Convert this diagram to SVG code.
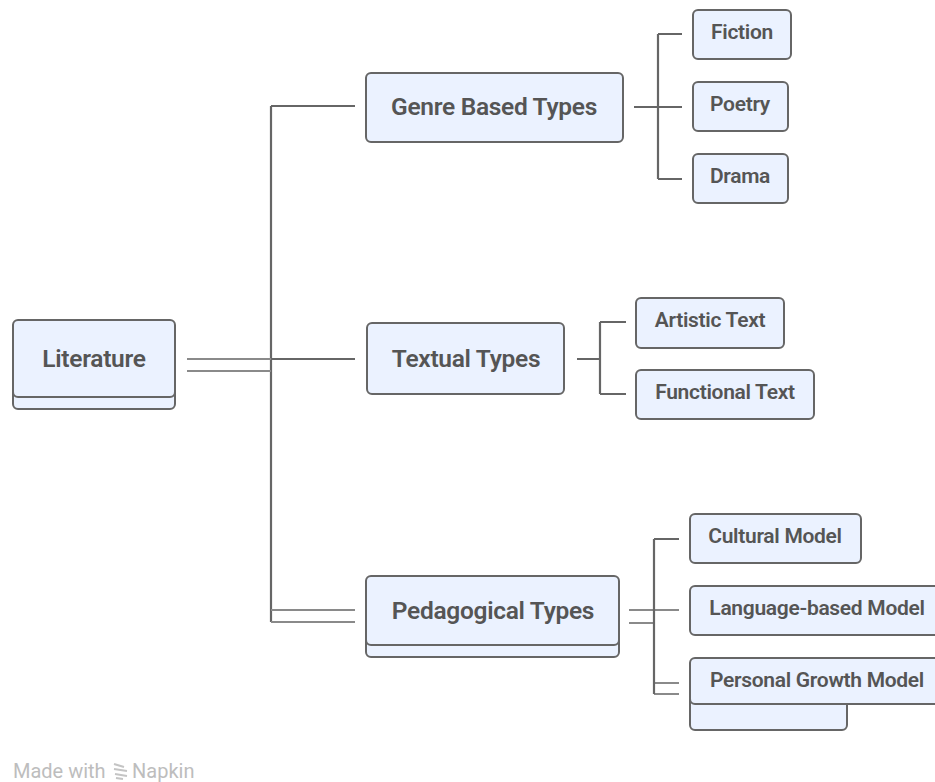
<svg xmlns="http://www.w3.org/2000/svg" width="935" height="782" viewBox="0 0 935 782">
<style>
.box{fill:#ebf2ff;stroke:#666;stroke-width:2}
.ln{fill:none;stroke:#666;stroke-width:2.2}
.ln2{fill:none;stroke:#8a8a8a;stroke-width:2.2}
.t1{font-family:Roboto,"Liberation Sans",sans-serif;font-weight:600;font-size:24.5px;fill:#555;text-anchor:middle;dominant-baseline:central;letter-spacing:-0.3px}
.t2{font-family:Roboto,"Liberation Sans",sans-serif;font-weight:600;font-size:21px;fill:#555;text-anchor:middle;dominant-baseline:central;letter-spacing:-0.3px}
.wm{font-family:Roboto,"Liberation Sans",sans-serif;font-size:20px;fill:#bdbdbd}
</style>
<rect width="935" height="782" fill="#fff"/>
<g id="connectors">
<path class="ln" d="M271 106V622M271 106H355M271 359H355"/>
<path class="ln2" d="M187 359H271M187 371H271M271 610H355M271 622H355"/>
<path class="ln" d="M634 107H682M658 34V179M658 34H682M658 179H682"/>
<path class="ln" d="M577 359H600M600 322V394M600 322H626M600 394H626"/>
<path class="ln2" d="M629 610H679M629 623H654M654 683H679M654 694H679"/>
<path class="ln" d="M654 539V694M654 539H679"/>
</g>
<g id="literature">
<rect class="box" x="13" y="332" width="162" height="77" rx="5"/>
<rect class="box" x="13" y="320" width="162" height="77" rx="5"/>
<text class="t1" x="94" y="358">Literature</text>
</g>
<g id="genre">
<rect class="box" x="366" y="73" width="257" height="69" rx="5"/>
<text class="t1" x="494" y="106">Genre Based Types</text>
</g>
<g id="textual">
<rect class="box" x="367" y="323" width="197" height="71" rx="5"/>
<text class="t1" x="466" y="358">Textual Types</text>
</g>
<g id="pedagogical">
<rect class="box" x="366" y="588" width="253" height="69" rx="5"/>
<rect class="box" x="366" y="576" width="253" height="69" rx="5"/>
<text class="t1" x="493" y="610">Pedagogical Types</text>
</g>
<g id="fiction">
<rect class="box" x="693" y="10" width="98" height="49" rx="5"/>
<text class="t2" x="742" y="32">Fiction</text>
</g>
<g id="poetry">
<rect class="box" x="693" y="82" width="95" height="49" rx="5"/>
<text class="t2" x="740" y="104">Poetry</text>
</g>
<g id="drama">
<rect class="box" x="693" y="154" width="95" height="49" rx="5"/>
<text class="t2" x="740" y="176">Drama</text>
</g>
<g id="artistic">
<rect class="box" x="636" y="298" width="148" height="50" rx="5"/>
<text class="t2" x="710" y="320">Artistic Text</text>
</g>
<g id="functional">
<rect class="box" x="636" y="370" width="178" height="49" rx="5"/>
<text class="t2" x="725" y="392">Functional Text</text>
</g>
<g id="cultural">
<rect class="box" x="690" y="514" width="171" height="49" rx="5"/>
<text class="t2" x="775" y="536">Cultural Model</text>
</g>
<g id="language">
<rect class="box" x="690" y="586" width="254" height="49" rx="5"/>
<text class="t2" x="817" y="608">Language-based Model</text>
</g>
<g id="personal">
<rect class="box" x="690" y="670" width="157" height="60" rx="5"/>
<rect class="box" x="690" y="658" width="254" height="46" rx="5"/>
<text class="t2" x="817" y="680">Personal Growth Model</text>
</g>
<g id="watermark">
<text class="wm" x="13" y="778">Made with</text>
<path d="M114 764l10 3M114 769l13 2M115 774l12 2M116 778l7 1" stroke="#c4c4c4" stroke-width="2" fill="none"/>
<text class="wm" x="132" y="778">Napkin</text>
</g>
</svg>
